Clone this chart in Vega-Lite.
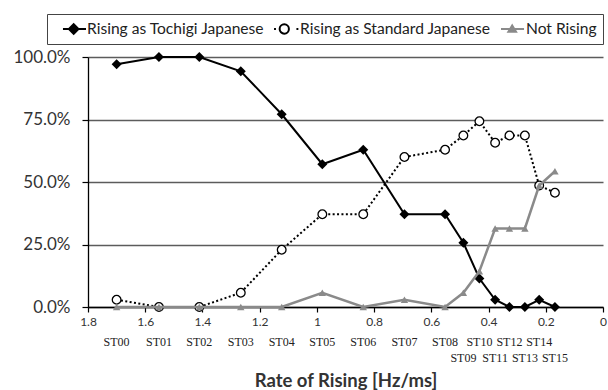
{
  "$schema": "https://vega.github.io/schema/vega-lite/v6.json",
  "width": 515,
  "height": 250,
  "autosize": {"type": "none"},
  "padding": {"left": 88, "top": 57, "right": 5, "bottom": 83},
  "background": "white",
  "config": {
    "view": {"stroke": null},
    "font": "Lato",
    "legend": {
      "labelFont": "Lato",
      "labelFontSize": 15.6,
      "labelColor": "#222",
      "labelLimit": 400,
      "labelOffset": 0,
      "symbolSize": 1024,
      "symbolStrokeWidth": 2,
      "columnPadding": 1,
      "padding": 6,
      "strokeColor": "#444",
      "clipHeight": 18
    }
  },
  "datasets": {
    "stations": [
      {"station": "ST00", "rate": 1.700, "tochigi": 0.971, "standard": 0.029, "notRising": 0.000},
      {"station": "ST01", "rate": 1.552, "tochigi": 1.000, "standard": 0.000, "notRising": 0.000},
      {"station": "ST02", "rate": 1.411, "tochigi": 1.000, "standard": 0.000, "notRising": 0.000},
      {"station": "ST03", "rate": 1.266, "tochigi": 0.943, "standard": 0.057, "notRising": 0.000},
      {"station": "ST04", "rate": 1.123, "tochigi": 0.771, "standard": 0.229, "notRising": 0.000},
      {"station": "ST05", "rate": 0.981, "tochigi": 0.571, "standard": 0.371, "notRising": 0.057},
      {"station": "ST06", "rate": 0.838, "tochigi": 0.629, "standard": 0.371, "notRising": 0.000},
      {"station": "ST07", "rate": 0.694, "tochigi": 0.371, "standard": 0.600, "notRising": 0.029},
      {"station": "ST08", "rate": 0.552, "tochigi": 0.371, "standard": 0.629, "notRising": 0.000},
      {"station": "ST09", "rate": 0.488, "tochigi": 0.257, "standard": 0.686, "notRising": 0.057},
      {"station": "ST10", "rate": 0.432, "tochigi": 0.114, "standard": 0.743, "notRising": 0.143},
      {"station": "ST11", "rate": 0.377, "tochigi": 0.029, "standard": 0.657, "notRising": 0.314},
      {"station": "ST12", "rate": 0.327, "tochigi": 0.000, "standard": 0.686, "notRising": 0.314},
      {"station": "ST13", "rate": 0.273, "tochigi": 0.000, "standard": 0.686, "notRising": 0.314},
      {"station": "ST14", "rate": 0.223, "tochigi": 0.029, "standard": 0.486, "notRising": 0.486},
      {"station": "ST15", "rate": 0.168, "tochigi": 0.000, "standard": 0.457, "notRising": 0.543}
    ],
    "series": [
      {"name": "Rising as Tochigi Japanese"},
      {"name": "Rising as Standard Japanese"},
      {"name": "Not Rising"}
    ]
  },
  "data": {"name": "stations"},
  "layer": [
    {
      "mark": {"type": "line", "color": "#000", "strokeWidth": 2},
      "encoding": {
        "x": {
          "field": "rate",
          "type": "quantitative",
          "scale": {"domain": [0, 1.8], "reverse": true, "nice": false, "zero": false},
          "axis": {
            "values": [0, 0.2, 0.4, 0.6, 0.8, 1, 1.2, 1.4, 1.6, 1.8],
            "format": "~g",
            "title": "Rate of Rising [Hz/ms]",
            "titleFont": "Lato",
            "titleFontSize": 18.5,
            "titleFontWeight": "bold",
            "titleColor": "#333",
            "titlePadding": 44,
            "labelFont": "Lato",
            "labelFontSize": 12,
            "labelColor": "#333",
            "labelPadding": 4,
            "labelFlush": false,
            "labelOverlap": false,
            "tickSize": 5,
            "tickColor": "#000",
            "tickWidth": 1.2,
            "domainColor": "#000",
            "domainWidth": 1.3,
            "grid": false
          }
        },
        "y": {
          "field": "tochigi",
          "type": "quantitative",
          "scale": {"domain": [0, 1], "nice": false},
          "axis": {
            "values": [0, 0.25, 0.5, 0.75, 1],
            "format": ".1%",
            "title": null,
            "grid": true,
            "gridColor": "#5c5c5c",
            "gridWidth": 1.3,
            "labelFont": "Lato",
            "labelFontSize": 17,
            "labelColor": "#333",
            "labelPadding": 12,
            "labelFlush": false,
            "tickSize": 6,
            "tickColor": "#000",
            "tickWidth": 1.2,
            "domainColor": "#000",
            "domainWidth": 1.3
          }
        }
      }
    },
    {
      "mark": {"type": "point", "shape": "diamond", "filled": true, "color": "#000", "size": 100, "opacity": 1},
      "encoding": {
        "x": {"field": "rate", "type": "quantitative"},
        "y": {"field": "tochigi", "type": "quantitative"}
      }
    },
    {
      "mark": {"type": "line", "color": "#000", "strokeWidth": 2, "strokeDash": [2, 2.4]},
      "encoding": {
        "x": {"field": "rate", "type": "quantitative"},
        "y": {"field": "standard", "type": "quantitative"}
      }
    },
    {
      "mark": {"type": "point", "shape": "circle", "filled": true, "fill": "#fff", "stroke": "#000", "strokeWidth": 1.3, "size": 75, "opacity": 1},
      "encoding": {
        "x": {"field": "rate", "type": "quantitative"},
        "y": {"field": "standard", "type": "quantitative"}
      }
    },
    {
      "mark": {"type": "line", "color": "#8a8a8a", "strokeWidth": 2.5},
      "encoding": {
        "x": {"field": "rate", "type": "quantitative"},
        "y": {"field": "notRising", "type": "quantitative"}
      }
    },
    {
      "mark": {"type": "point", "shape": "triangle-up", "filled": true, "color": "#8a8a8a", "size": 55, "opacity": 1},
      "encoding": {
        "x": {"field": "rate", "type": "quantitative"},
        "y": {"field": "notRising", "type": "quantitative"}
      }
    },
    {
      "transform": [{"filter": "indexof(['ST09','ST11','ST13','ST15'], datum.station) < 0"}],
      "mark": {"type": "text", "font": "Liberation Serif", "fontSize": 12, "color": "#222", "baseline": "middle", "dy": 35},
      "encoding": {
        "x": {"field": "rate", "type": "quantitative"},
        "y": {"datum": 0, "type": "quantitative"},
        "text": {"field": "station", "type": "nominal"}
      }
    },
    {
      "transform": [{"filter": "indexof(['ST09','ST11','ST13','ST15'], datum.station) >= 0"}],
      "mark": {"type": "text", "font": "Liberation Serif", "fontSize": 12, "color": "#222", "baseline": "middle", "dy": 51},
      "encoding": {
        "x": {"field": "rate", "type": "quantitative"},
        "y": {"datum": 0, "type": "quantitative"},
        "text": {"field": "station", "type": "nominal"}
      }
    },
    {
      "data": {"name": "series"},
      "mark": {"type": "point", "filled": false, "opacity": 0},
      "encoding": {
        "shape": {
          "field": "name",
          "type": "nominal",
          "scale": {
            "domain": ["Rising as Tochigi Japanese", "Rising as Standard Japanese", "Not Rising"],
            "range": [
              "M-0.44,0H1M0.23,-0.3L0.53,0L0.23,0.3L-0.07,0Z",
              "M-0.56,0H-0.44M0.84,0H0.96M0.37,0C0.37,0.16,0.24,0.29,0.08,0.29C-0.08,0.29,-0.21,0.16,-0.21,0C-0.21,-0.16,-0.08,-0.29,0.08,-0.29C0.24,-0.29,0.37,-0.16,0.37,0Z",
              "M-0.5,0H0.94M0.2,-0.22L0.44,0.17L-0.04,0.17Z"
            ]
          },
          "legend": {
            "title": null,
            "orient": "none",
            "legendX": -41,
            "legendY": -43,
            "direction": "horizontal",
            "symbolOpacity": 1
          }
        },
        "stroke": {
          "field": "name",
          "type": "nominal",
          "scale": {
            "domain": ["Rising as Tochigi Japanese", "Rising as Standard Japanese", "Not Rising"],
            "range": ["#000", "#000", "#8a8a8a"]
          },
          "legend": {
            "title": null,
            "orient": "none",
            "legendX": -41,
            "legendY": -43,
            "direction": "horizontal",
            "symbolOpacity": 1
          }
        },
        "fill": {
          "field": "name",
          "type": "nominal",
          "scale": {
            "domain": ["Rising as Tochigi Japanese", "Rising as Standard Japanese", "Not Rising"],
            "range": ["#000", "#fff", "#8a8a8a"]
          },
          "legend": {
            "title": null,
            "orient": "none",
            "legendX": -41,
            "legendY": -43,
            "direction": "horizontal",
            "symbolOpacity": 1
          }
        }
      }
    }
  ]
}
